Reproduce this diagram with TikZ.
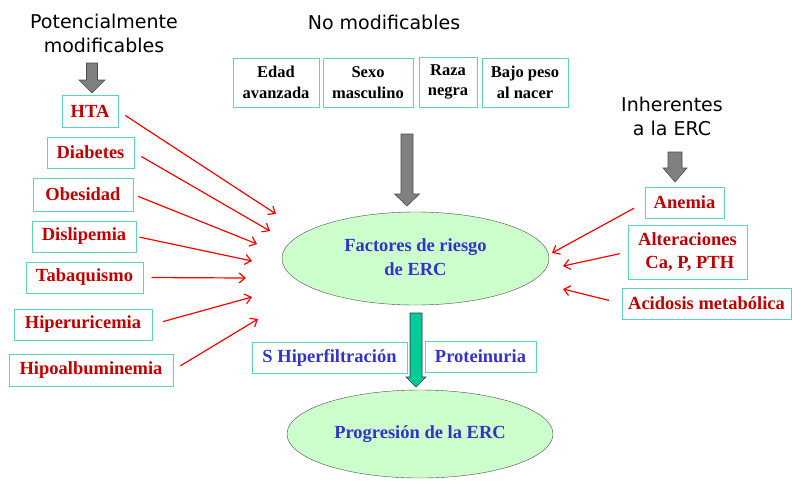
\documentclass[tikz,border=0pt]{standalone}
\usepackage{fontspec}
\setmainfont{Liberation Serif}
\newfontfamily\headfont{DejaVu Sans}
\usetikzlibrary{arrows.meta}
\usetikzlibrary{shapes.geometric}

\definecolor{boxline}{RGB}{90,215,185}
\definecolor{riskred}{RGB}{192,0,0}
\definecolor{ercblue}{RGB}{51,51,204}
\definecolor{ellfill}{RGB}{204,255,204}
\definecolor{arrowgray}{RGB}{128,128,128}
\definecolor{progteal}{RGB}{0,204,153}

\tikzset{
	heading/.style={align=center,font=\headfont\fontsize{19}{24}\selectfont},
	factor/.style={draw=boxline,line width=1pt,text=riskred,inner sep=0pt,align=center,
		font=\fontsize{18.5}{22.5}\selectfont\bfseries},
	fixedbox/.style={factor,text=black,font=\fontsize{16.5}{20.5}\selectfont\bfseries},
	renalbox/.style={factor,text=ercblue},
	stage/.style={ellipse,draw=black!70,fill=ellfill,inner sep=0pt,text=ercblue,align=center,
		font=\fontsize{18.5}{24}\selectfont\bfseries},
	riskarrow/.style={->,red,line width=1.2pt,shorten <=8pt},
	blockarrow/.style={draw=black!70,fill=arrowgray,line width=0.6pt}
}

\begin{document}
\begin{tikzpicture}[x=1pt,y=-1pt,>={Straight Barb[length=6pt,width=10pt]}]

\useasboundingbox (0,0) rectangle (792,480);

\node [heading] (potencial) at (104,33) {Potencialmente\\modificables};
\node [heading] (nomod) at (384,22) {No modificables};
\node [heading] (inherentes) at (672,116) {Inherentes\\a la ERC};

\draw [blockarrow] (86.5,63) -- (97.5,63) -- (97.5,80) -- (105,80) -- (92,93)
	-- (79,80) -- (86.5,80) -- cycle;
\draw [blockarrow] (401,134) -- (413,134) -- (413,194) -- (419.5,194) -- (407,206)
	-- (394.5,194) -- (401,194) -- cycle;
\draw [blockarrow] (668,152) -- (682,152) -- (682,168) -- (687,168) -- (675,182)
	-- (663,168) -- (668,168) -- cycle;
\draw [blockarrow,fill=progteal,draw=black!80] (410,313) -- (422,313) -- (422,377) -- (426,377) -- (416,387)
	-- (406,377) -- (410,377) -- cycle;

%%%%%%%%%%%%%%%%%%%%%%%%%%%%%%%%%%%%%%%%%%

\node [fixedbox,minimum width=86pt,minimum height=49pt] (edad) at (276,82.5) {Edad\\avanzada};
\node [fixedbox,minimum width=90pt,minimum height=49pt] (sexo) at (368,82.5) {Sexo\\masculino};
\node [fixedbox,minimum width=58pt,minimum height=50pt] (raza) at (448,82) {Raza\\negra};
\node [fixedbox,minimum width=86pt,minimum height=49pt] (bajopeso) at (525,82.5) {Bajo peso\\al nacer};

%%%%%%%%%%%%%%%%%%%%%%%%%%%%%%%%%%%%%%%%%%

\node [factor,minimum width=56pt,minimum height=32pt] (hta) at (90,111) {HTA};
\node [factor,minimum width=87pt,minimum height=31pt] (diabetes) at (90.5,152.5) {Diabetes};
\node [factor,minimum width=100pt,minimum height=33pt] (obesidad) at (83,194.5) {Obesidad};
\node [factor,minimum width=104pt,minimum height=31pt] (dislipemia) at (84,236.5) {Dislipemia};
\node [factor,minimum width=117pt,minimum height=31pt] (tabaquismo) at (84.5,277.5) {Tabaquismo};
\node [factor,minimum width=138pt,minimum height=31pt] (hiperuricemia) at (83,324.5) {Hiperuricemia};
\node [factor,minimum width=164pt,minimum height=32pt] (hipoalb) at (91,370) {Hipoalbuminemia};

\node [factor,minimum width=79pt,minimum height=31pt] (anemia) at (684.5,202.5) {Anemia};
\node [factor,minimum width=119pt,minimum height=54pt] (alteraciones) at (687.5,252) {Alteraciones\\\ Ca, P, PTH};
\node [factor,minimum width=169pt,minimum height=31pt] (acidosis) at (706.5,303.5) {Acidosis metabólica};

%%%%%%%%%%%%%%%%%%%%%%%%%%%%%%%%%%%%%%%%%%

\node [stage,minimum width=267pt,minimum height=93pt] (factores) at (415.5,258.5)
	{\raisebox{-4pt}{\begin{tabular}{@{}c@{}}Factores de riesgo\\de ERC\end{tabular}}};
\node [stage,minimum width=266pt,minimum height=88pt] (progresion) at (420,434) {\raisebox{3pt}{Progresión de la ERC}};

\node [renalbox,minimum width=155pt,minimum height=31pt] (hiperfiltracion) at (329.5,357.5) {S Hiperfiltración};
\node [renalbox,minimum width=111pt,minimum height=31pt] (proteinuria) at (480.5,356.5) {Proteinuria};

%%%%%%%%%%%%%%%%%%%%%%%%%%%%%%%%%%%%%%%%%%

\coordinate (hta-end) at (276,214);
\coordinate (diabetes-end) at (270,231);
\coordinate (obesidad-end) at (257,244);
\coordinate (dislipemia-end) at (252,261);
\coordinate (tabaquismo-end) at (246,278);
\coordinate (hiperuricemia-end) at (252,297);
\coordinate (hipoalb-end) at (258,319);
\coordinate (anemia-end) at (552,253);
\coordinate (alteraciones-end) at (563,266);
\coordinate (acidosis-end) at (563,289);

\draw [riskarrow] (hta.east) -- (hta-end);
\draw [riskarrow] (diabetes.east) -- (diabetes-end);
\draw [riskarrow,shorten <=5pt] (obesidad.east) -- (obesidad-end);
\draw [riskarrow,shorten <=3pt] (dislipemia.east) -- (dislipemia-end);
\draw [riskarrow] (tabaquismo.east) -- (tabaquismo-end);
\draw [riskarrow,shorten <=11pt] (hiperuricemia.east) -- (hiperuricemia-end);
\draw [riskarrow] (hipoalb.east) -- (hipoalb-end);

\draw [riskarrow,shorten <=12pt] (anemia.west) -- (anemia-end);
\draw [riskarrow] (alteraciones.west) -- (alteraciones-end);
\draw [riskarrow,shorten <=13pt] (acidosis.west) -- (acidosis-end);

\end{tikzpicture}
\end{document}
